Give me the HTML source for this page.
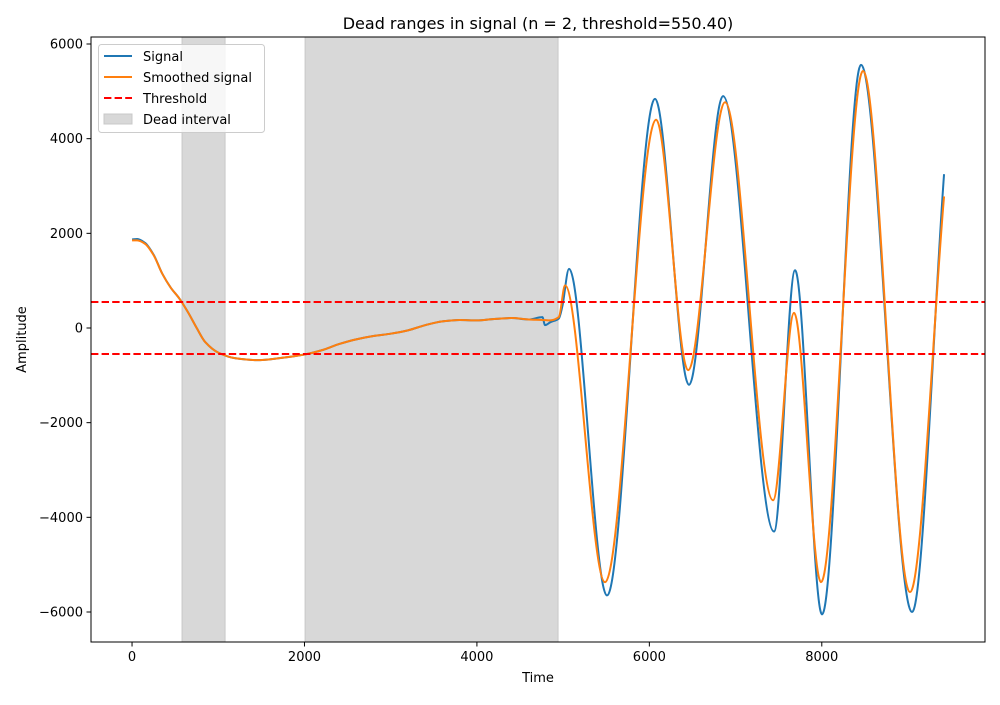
<!DOCTYPE html>
<html><head><meta charset="utf-8"><style>
body{margin:0;background:#fff}
svg{font-family:"DejaVu Sans","Liberation Sans",sans-serif}
</style></head><body>
<svg id="chart" width="1000" height="700" viewBox="0 0 1000 700" xmlns="http://www.w3.org/2000/svg">
<rect width="1000" height="700" fill="#fff"/>
<g id="plot"></g>
</svg>
<script>
const sigT=[0,60,150,250,350,450,550,650,750,850,1000,1200,1450,1700,2000,2200,2400,2600,2800,3000,3200,3400,3600,3800,4000,4200,4400,4600,4760,4790,4850,4950,4990,5068,5509,6066,6460,6855,7446,7690,8003,8455,9047,9418];
const sigV=[1870,1880,1800,1550,1150,850,620,330,0,-300,-520,-640,-680,-640,-560,-470,-340,-240,-170,-120,-50,60,140,170,160,190,210,180,230,60,120,200,450,1250,-5650,4840,-1200,4900,-4300,1220,-6050,5560,-6000,3250];
const smT=[0,60,150,250,350,450,550,650,750,850,1000,1200,1450,1700,2000,2200,2400,2600,2800,3000,3200,3400,3600,3800,4000,4200,4400,4600,4760,4850,4950,5022,5486,6078,6450,6878,7435,7678,7991,8478,9023,9418];
const smV=[1850,1850,1780,1540,1150,850,620,330,0,-300,-520,-640,-680,-640,-560,-470,-340,-240,-170,-120,-50,60,140,170,160,190,210,180,170,160,230,900,-5370,4400,-890,4770,-3640,320,-5370,5430,-5580,2780];
const deadStart=[580,2007];
const deadEnd=[1079,4941];
const threshold=550.4;
const xTicks=[0,2000,4000,6000,8000];
const yTicks=[-6000,-4000,-2000,0,2000,4000,6000];

const L=91,R=985,T=37,B=642;
const xMin=-476,xMax=9893,yMin=-6634,yMax=6148;
const X=v=>L+(v-xMin)/(xMax-xMin)*(R-L);
const Y=v=>B-(v-yMin)/(yMax-yMin)*(B-T);
const NS="http://www.w3.org/2000/svg";
const g=document.getElementById('plot');
function mk(tag,attrs,parent){const e=document.createElementNS(NS,tag);for(const k in attrs)e.setAttribute(k,attrs[k]);(parent||g).appendChild(e);return e;}

// clip
const defs=mk('defs',{});
const cp=mk('clipPath',{id:'clip'},defs);mk('rect',{x:L,y:T,width:R-L,height:B-T},cp);

for(let i=0;i<deadStart.length;i++){
  const r=mk('rect',{x:X(deadStart[i]),y:T,width:X(deadEnd[i])-X(deadStart[i]),height:B-T,fill:'#d8d8d8',stroke:'#c8c8c8','stroke-width':1});
  
  
}

function monoPath(t,v){
  const n=t.length,d=[],m=new Array(n).fill(0);
  for(let i=0;i<n-1;i++)d.push((v[i+1]-v[i])/(t[i+1]-t[i]));
  m[0]=d[0];m[n-1]=d[n-2];
  for(let i=1;i<n-1;i++){m[i]=(d[i-1]*d[i]<=0)?0:2/(1/d[i-1]+1/d[i]);}
  let p='M'+X(t[0]).toFixed(2)+','+Y(v[0]).toFixed(2);
  for(let i=0;i<n-1;i++){
    const h=t[i+1]-t[i];
    const x1=t[i]+h/3,y1=v[i]+m[i]*h/3,x2=t[i+1]-h/3,y2=v[i+1]-m[i+1]*h/3;
    p+='C'+X(x1).toFixed(2)+','+Y(y1).toFixed(2)+' '+X(x2).toFixed(2)+','+Y(y2).toFixed(2)+' '+X(t[i+1]).toFixed(2)+','+Y(v[i+1]).toFixed(2);
  }
  return p;
}
const s1=mk('path',{d:monoPath(sigT,sigV),fill:'none',stroke:'#1f77b4','stroke-width':2,'clip-path':'url(#clip)'});


const s2=mk('path',{d:monoPath(smT,smV),fill:'none',stroke:'#ff7f0e','stroke-width':2,'clip-path':'url(#clip)'});


[threshold,-threshold].forEach((th,i)=>{
  const l=mk('line',{x1:L,x2:R,y1:Y(th),y2:Y(th),stroke:'#ff0000','stroke-width':2,'stroke-dasharray':'7.4,3.2'});
  
  
});
const frame=mk('rect',{x:L,y:T,width:R-L,height:B-T,fill:'none',stroke:'#000','stroke-width':1});



xTicks.forEach(v=>{
  mk('line',{x1:X(v),x2:X(v),y1:B,y2:B+4.5,stroke:'#000'});
  const t=mk('text',{x:X(v),y:B+19,'font-size':13,'text-anchor':'middle'});t.textContent=v;
  
  
});
yTicks.forEach(v=>{
  mk('line',{x1:L-4.5,x2:L,y1:Y(v),y2:Y(v),stroke:'#000'});
  const t=mk('text',{x:L-8,y:Y(v)+4.5,'font-size':13,'text-anchor':'end'});t.textContent=(v<0?'\u2212':'')+Math.abs(v);
  
  
});
const ti=mk('text',{x:(L+R)/2,y:29,'font-size':16,'text-anchor':'middle'});ti.textContent='Dead ranges in signal (n = 2, threshold=550.40)';


const xl=mk('text',{x:(L+R)/2,y:682,'font-size':13,'text-anchor':'middle'});xl.textContent='Time';


const yl=mk('text',{x:26,y:(T+B)/2,'font-size':13,'text-anchor':'middle',transform:'rotate(-90 26 '+((T+B)/2)+')'});yl.textContent='Amplitude';



// legend
const lg=mk('g',{});


mk('rect',{x:98.5,y:44.5,width:166,height:88,rx:3,fill:'#fff','fill-opacity':0.8,stroke:'#ccc'},lg);
const items=[['Signal','#1f77b4','line'],['Smoothed signal','#ff7f0e','line'],['Threshold','#ff0000','dash'],['Dead interval','#d8d8d8','patch']];
items.forEach((it,i)=>{
  const y=56+i*21;
  if(it[2]==='patch')mk('rect',{x:104,y:y-5,width:28,height:10,fill:it[1],stroke:'#c8c8c8'},lg);
  else mk('line',{x1:104,x2:132,y1:y,y2:y,stroke:it[1],'stroke-width':2,'stroke-dasharray':it[2]==='dash'?'7.4,3.2':'none'},lg);
  const t=mk('text',{x:143,y:y+5,'font-size':13},lg);t.textContent=it[0];
  
  
});
</script>
</body></html>
